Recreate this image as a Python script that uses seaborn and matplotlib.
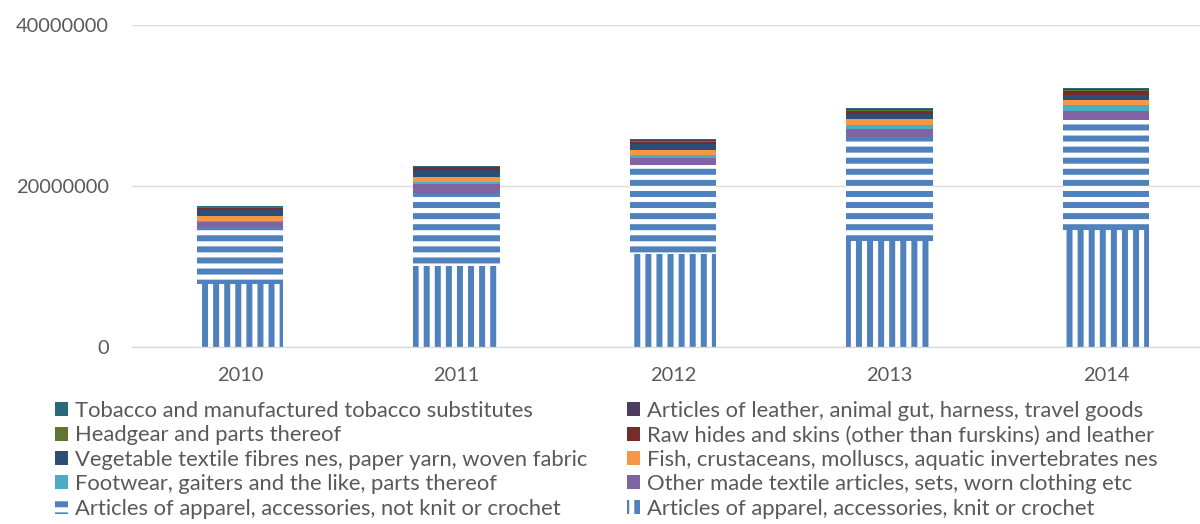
import matplotlib
matplotlib.use("Agg")
import matplotlib.pyplot as plt
from matplotlib.patches import Patch
import seaborn as sns
import numpy as np

years = ["2010", "2011", "2012", "2013", "2014"]

knit = [7.83e6, 10.06e6, 11.55e6, 13.17e6, 14.53e6]
not_knit = [7.08e6, 9.10e6, 11.00e6, 12.88e6, 13.70e6]
other_made = [0.58e6, 1.04e6, 0.94e6, 1.07e6, 1.12e6]
footwear = [0.20e6, 0.33e6, 0.37e6, 0.50e6, 0.67e6]
fish = [0.62e6, 0.62e6, 0.58e6, 0.67e6, 0.70e6]
vegetable = [0.78e6, 0.86e6, 0.75e6, 0.62e6, 0.55e6]
raw_hides = [0.19e6, 0.29e6, 0.29e6, 0.41e6, 0.50e6]
headgear = [0.06e6, 0.05e6, 0.12e6, 0.17e6, 0.20e6]
leather = [0.10e6, 0.06e6, 0.10e6, 0.12e6, 0.14e6]
tobacco = [0.06e6, 0.04e6, 0.08e6, 0.08e6, 0.10e6]

labels = [
    "Articles of apparel, accessories, knit or crochet",
    "Articles of apparel, accessories, not knit or crochet",
    "Other made textile articles, sets, worn clothing etc",
    "Footwear, gaiters and the like, parts thereof",
    "Fish, crustaceans, molluscs, aquatic invertebrates nes",
    "Vegetable textile fibres nes, paper yarn, woven fabric",
    "Raw hides and skins (other than furskins) and leather",
    "Headgear and parts thereof",
    "Articles of leather, animal gut, harness, travel goods",
    "Tobacco and manufactured tobacco substitutes",
]
series = [knit, not_knit, other_made, footwear, fish, vegetable,
          raw_hides, headgear, leather, tobacco]
colors = ["#4F81BD", "#4F81BD", "#8064A2", "#4BACC6", "#F79646",
          "#2C4D75", "#772C2A", "#5F7530", "#4D3B62", "#276A7C"]
hatches = ["||", "--", None, None, None, None, None, None, None, None]

DPI = 133
PX = 72.0 / DPI  # points per pixel

sns.set_style("white")
plt.rcParams["font.family"] = ["Lato", "DejaVu Sans"]
plt.rcParams["hatch.linewidth"] = 6 * PX

fig = plt.figure(figsize=(1200 / DPI, 524 / DPI), dpi=DPI)
left = 131.75 / 1200
width = 1082.5 / 1200
bottom_ax = (524 - 347) / 524
height = (347 - 25) / 524
ax = fig.add_axes([left, bottom_ax, width, height])

text_color = "#595959"
fs = 20 * PX
fs_leg = 22 * PX

bottom = np.zeros(len(years))
handles = []
for vals, lab, col, h in zip(series, labels, colors, hatches):
    sns.barplot(x=years, y=vals, bottom=bottom, ax=ax, color=col,
                saturation=1, width=0.4, errorbar=None, linewidth=0)
    cont = ax.containers[-1]
    for p in cont:
        if h:
            p.set_facecolor("white")
            p.set_edgecolor(col)
            p.set_hatch(h)
            p.set_linewidth(0)
        else:
            p.set_facecolor(col)
            p.set_edgecolor(col)
            p.set_linewidth(0)
    if h:
        handles.append(Patch(facecolor="white", edgecolor=col, hatch=h, linewidth=0, label=lab))
    else:
        handles.append(Patch(facecolor=col, edgecolor=col, linewidth=0, label=lab))
    bottom = bottom + np.array(vals)

ax.set_ylim(0, 40000000)
ax.set_xlim(-0.5, 4.5)
ax.set_yticks([0, 20000000, 40000000])
ax.set_yticklabels(["0", "20000000", "40000000"])
ax.yaxis.grid(True, color="#D9D9D9", linewidth=1.3 * PX)
ax.set_axisbelow(True)
for s in ["top", "right", "left"]:
    ax.spines[s].set_visible(False)
ax.spines["bottom"].set_color("#D9D9D9")
ax.spines["bottom"].set_linewidth(1.3 * PX)
ax.set_xlabel("")
ax.set_ylabel("")
ax.tick_params(axis="y", length=0, pad=23 * PX, labelsize=fs, labelcolor=text_color)
ax.tick_params(axis="x", which="major", length=0, pad=20 * PX, labelsize=fs, labelcolor=text_color)
ax.set_xticks(np.arange(-0.5, 5.0, 1.0), minor=True)
ax.tick_params(axis="x", which="minor", length=6 * PX, width=1.3 * PX, color="#D9D9D9", direction="out")

# legend: row-major display of reversed series -> column-major handle order
rev = handles[::-1]
col1 = rev[0::2]
col2 = rev[1::2]
leg = fig.legend(handles=col1 + col2, ncol=2, loc="upper left",
                 bbox_to_anchor=(55 / 1200, 1 - 401 / 524),
                 frameon=False, fontsize=fs_leg, labelcolor=text_color,
                 handlelength=0.6, handleheight=0.6, handletextpad=0.3,
                 columnspacing=1.8, labelspacing=0.2, borderpad=0, borderaxespad=0)

fig.savefig("out.png", dpi=DPI)
